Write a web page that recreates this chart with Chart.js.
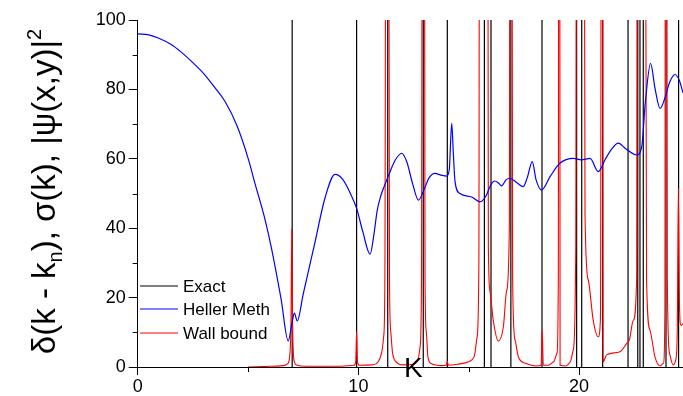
<!DOCTYPE html>
<html>
<head>
<meta charset="utf-8">
<script src="https://cdn.jsdelivr.net/npm/chart.js@4.4.0/dist/chart.umd.min.js"></script>
<style>
  html, body { margin: 0; padding: 0; background: #fff; }
</style>
</head>
<body>
<canvas id="waveChart" width="683" height="396"></canvas>
<script>
// axis ranges and ticks
const kMax = 24.71;
const kMinorTicks = [5, 15];
const yMinorTicks = [10, 30, 50, 70, 90];

// exact eigenvalues (delta lines)
const exactK = [7.0, 9.92, 11.33, 12.94, 14.03, 15.71, 16.01, 16.91, 18.32, 19.89, 20.12, 21.07,
                22.22, 22.66, 22.76, 22.91, 23.94, 24.51];

// Heller method
const hellerK = [0, 0.5, 0.93, 1.5, 2.0, 2.45, 3.0, 3.5, 3.96, 4.5, 5.01, 5.31, 5.77, 6.07, 6.5,
                 6.82, 7.0, 7.1, 7.23, 7.5, 8.0, 8.5, 8.94, 9.3, 9.6, 9.92, 10.2, 10.53, 10.7, 10.85,
                 11.0, 11.2, 11.45, 11.66, 11.96, 12.2, 12.45, 12.72, 13.0, 13.2, 13.47, 13.75, 14.0,
                 14.12, 14.23, 14.3, 14.38, 14.6, 15.13, 15.51, 15.8, 16.0, 16.19, 16.35, 16.49, 16.7,
                 16.87, 17.2, 17.47, 17.65, 17.88, 18.05, 18.3, 18.7, 19.13, 19.74, 20.1, 20.5, 20.87,
                 21.2, 21.5, 21.78, 22.1, 22.61, 22.84, 23.0, 23.24, 23.45, 23.67, 23.89, 24.1, 24.35,
                 24.55, 24.71];
const hellerVal = [96, 95.7, 94.8, 93, 90.6, 88, 84.5, 80.5, 76.5, 69.5, 60, 53, 42.5, 34, 19.5,
                   7.5, 13, 15.5, 13.3, 21, 35, 49, 55.5, 54, 50.5, 45.7, 39, 32.5, 38, 45,
                   49, 52.5, 56.5, 59.5, 61.6, 59, 53, 48.1, 51.5, 54.5, 55.8, 55.3, 55,
                   57, 70.2, 62, 53.4, 50, 49, 47.6, 49.5, 52.5, 53.6, 53, 52.2, 54,
                   54.4, 53, 52, 54.5, 59.2, 54, 51, 55, 58.7, 60.1, 59.7, 60.1, 56.3,
                   60, 63, 64.5, 63, 61.1, 63.5, 76, 87.5, 80, 74.5, 77.5, 82, 84.3,
                   82.5, 79];

// wall bound
const wallK = [5.0, 6.0, 6.6, 6.8, 6.9, 6.95, 6.98, 7.02, 7.08, 7.2, 7.6, 9.0, 9.8, 9.88, 9.92,
               9.96, 10.05, 10.6, 10.9, 11.05, 11.15, 11.2, 11.3, 11.41, 11.47, 11.55, 11.76, 12.0,
               12.5, 12.7, 12.8, 12.86, 12.94, 13.02, 13.08, 13.15, 13.3, 13.8, 13.98, 14.03, 14.08,
               14.5, 15.0, 15.25, 15.38, 15.46, 15.52, 15.81, 15.89, 15.96, 16.11, 16.34, 16.57,
               16.72, 16.84, 16.9, 16.99, 17.1, 17.25, 17.6, 18.05, 18.28, 18.33, 18.38, 18.6,
               18.85, 19.0, 19.06, 19.1, 19.14, 19.4, 19.6, 19.74, 19.85, 19.92, 20.15, 20.27,
               20.42, 20.64, 20.87, 20.97, 21.05, 21.09, 21.25, 21.85, 22.16, 22.28, 22.46, 22.61,
               22.66, 22.9, 23.06, 23.21, 23.44, 23.67, 23.82, 23.89, 23.93, 24.0, 24.1, 24.26,
               24.38, 24.45, 24.5, 24.55, 24.62, 24.71];
const wallVal = [0, 0.2, 0.4, 1, 4, 15, 39.7, 12, 2, 0.6, 0.2, 0.2, 0.5, 1.5, 10.2,
                 1.5, 0.5, 0.6, 1.5, 4, 9, 25, 400, 25, 10, 4, 1.2, 0.6,
                 0.8, 2, 6, 25, 400, 25, 10, 3, 1, 0.4, 0.5, 1.6, 0.5,
                 0.8, 1.5, 3, 8.7, 30, 400, 400, 34.7, 22, 13.5, 7.5, 11.6,
                 22, 40, 400, 25, 7.8, 2.9, 1, 0.3, 0.5, 10.7, 0.5, 0.5,
                 1.5, 4, 25, 400, 0.5, 0.3, 1.5, 5, 34, 400, 400, 44,
                 25, 13.5, 8.7, 14, 400, 1.5, 3.5, 4.4, 6.8, 7.8, 13.5, 25.6,
                 400, 400, 25, 10.7, 2.9, 0.3, 1, 15.5, 400, 25, 4, 0.6,
                 2, 10, 51.5, 18, 12, 12.5];

const yTitleParts = [
    { text: 'δ(k - k' },
    { text: 'n', shift: 'sub' },
    { text: '), σ(k), |ψ(x,y)|' },
    { text: '2', shift: 'sup' }
];
const xTitle = 'K';

const FONT = "'Liberation Sans', Arial, sans-serif";

const toPoints = (ks, vals) => ks.map((k, i) => ({ x: k, y: vals[i] }));
const exactPoints = exactK.flatMap(k => [{ x: k, y: 0 }, { x: k, y: 100 }, { x: k, y: null }]);

// minor ticks, axis titles, legend
const decorPlugin = {
    id: 'decor',
    afterDraw(chart) {
        const { ctx, chartArea, scales: { x, y } } = chart;
        ctx.save();
        ctx.strokeStyle = '#000';
        ctx.lineWidth = 1;
        kMinorTicks.forEach(v => {
            const px = Math.round(x.getPixelForValue(v)) + 0.5;
            ctx.beginPath();
            ctx.moveTo(px, chartArea.bottom);
            ctx.lineTo(px, chartArea.bottom + 5);
            ctx.stroke();
        });
        yMinorTicks.forEach(v => {
            const py = Math.round(y.getPixelForValue(v)) + 0.5;
            ctx.beginPath();
            ctx.moveTo(chartArea.left, py);
            ctx.lineTo(chartArea.left - 5, py);
            ctx.stroke();
        });

        // y title with sub/superscript
        const size = 33;
        ctx.fillStyle = '#000';
        ctx.textBaseline = 'alphabetic';
        ctx.textAlign = 'left';
        const fontFor = p => (p.shift ? Math.round(size * 0.62) : size) + 'px ' + FONT;
        let total = 0;
        yTitleParts.forEach(p => { ctx.font = fontFor(p); total += ctx.measureText(p.text).width; });
        ctx.save();
        ctx.translate(55, (chartArea.top + chartArea.bottom) / 2 - 2);
        ctx.rotate(-Math.PI / 2);
        let cx = -total / 2;
        yTitleParts.forEach(p => {
            ctx.font = fontFor(p);
            const dy = p.shift === 'sub' ? 7 : p.shift === 'sup' ? -14 : 0;
            ctx.fillText(p.text, cx, dy);
            cx += ctx.measureText(p.text).width;
        });
        ctx.restore();

        // x title, sits on the axis
        ctx.font = '28px ' + FONT;
        ctx.textAlign = 'center';
        ctx.fillText(xTitle, (chartArea.left + chartArea.right) / 2 + 3, 377);

        // legend
        ctx.font = '17px ' + FONT;
        ctx.textAlign = 'left';
        ctx.textBaseline = 'middle';
        const legendY = [286, 309, 333];
        chart.data.datasets.forEach((ds, i) => {
            ctx.strokeStyle = ds.borderColor;
            ctx.beginPath();
            ctx.moveTo(140, legendY[i]);
            ctx.lineTo(178, legendY[i]);
            ctx.stroke();
            ctx.fillText(ds.label, 183, legendY[i] + 1);
        });
        ctx.restore();
    }
};

new Chart(document.getElementById('waveChart'), {
    type: 'line',
    data: {
        datasets: [{
            label: 'Exact',
            data: exactPoints,
            borderColor: '#000000',
            borderWidth: 1.2,
            pointRadius: 0,
            tension: 0,
            spanGaps: false,
            order: 3
        }, {
            label: 'Heller Meth',
            data: toPoints(hellerK, hellerVal),
            borderColor: '#0000ff',
            borderWidth: 1.2,
            pointRadius: 0,
            cubicInterpolationMode: 'monotone',
            order: 1
        }, {
            label: 'Wall bound',
            data: toPoints(wallK, wallVal),
            borderColor: '#ff0000',
            borderWidth: 1.1,
            pointRadius: 0,
            cubicInterpolationMode: 'monotone',
            order: 2
        }]
    },
    options: {
        responsive: false,
        animation: false,
        devicePixelRatio: 1,
        layout: { padding: { top: 20, left: 0, right: 0, bottom: 0 } },
        scales: {
            x: {
                type: 'linear',
                min: 0,
                max: kMax,
                afterFit: s => { s.height = 29; },
                ticks: {
                    stepSize: 10,
                    includeBounds: false,
                    maxRotation: 0,
                    padding: 1,
                    color: '#000',
                    font: { family: FONT, size: 18 }
                },
                grid: { drawOnChartArea: false, drawTicks: true, tickLength: 8, tickColor: '#000' },
                border: { color: '#000', width: 1 }
            },
            y: {
                min: 0,
                max: 100,
                afterFit: s => { s.width = 137.7; },
                ticks: {
                    stepSize: 20,
                    padding: 3,
                    color: '#000',
                    font: { family: FONT, size: 18 }
                },
                grid: { drawOnChartArea: false, drawTicks: true, tickLength: 9, tickColor: '#000' },
                border: { color: '#000', width: 1 }
            }
        },
        plugins: {
            legend: { display: false },
            tooltip: { enabled: false }
        }
    },
    plugins: [decorPlugin]
});
</script>
</body>
</html>
